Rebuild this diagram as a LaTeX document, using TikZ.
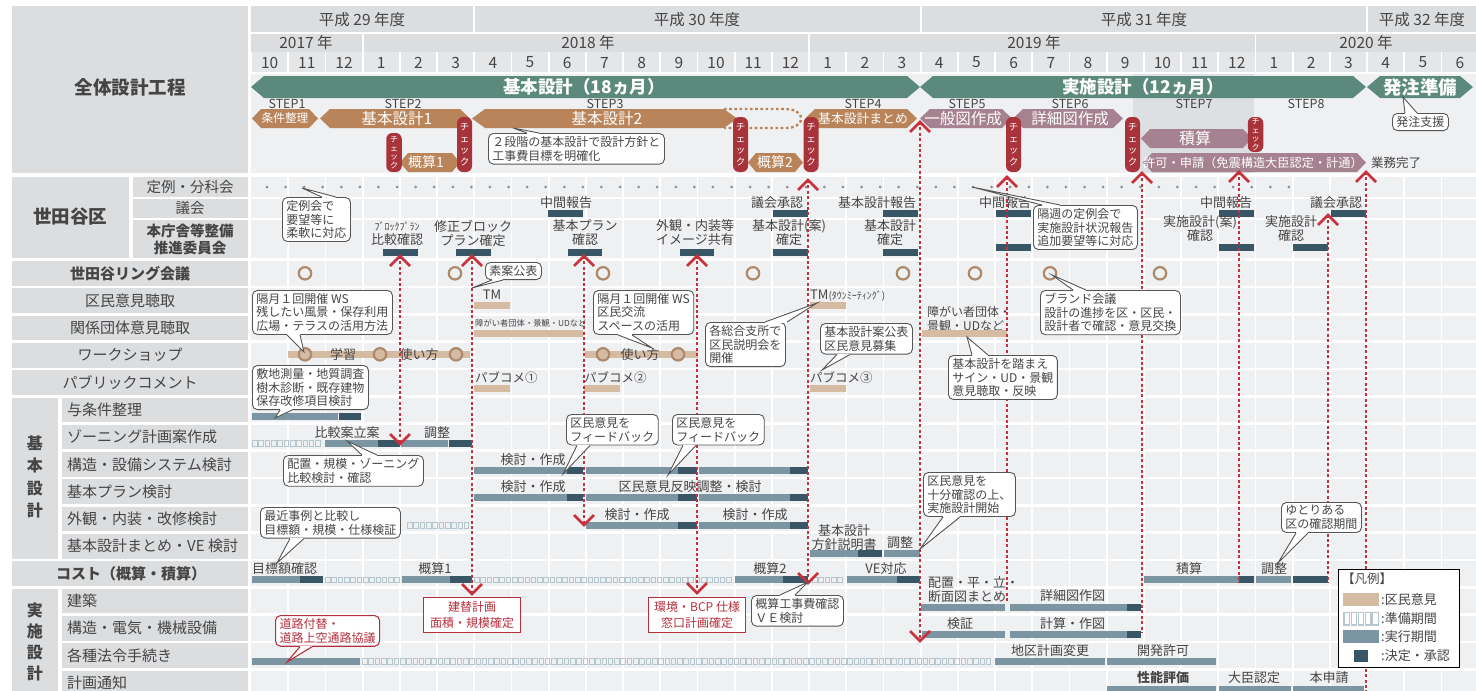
\documentclass[tikz,border=0pt]{standalone}
\usepackage{fontspec}
\setmainfont{Noto Sans CJK JP}
\usetikzlibrary{calc}
\definecolor{hdrgray}{HTML}{DCDDDF}
\definecolor{mongray}{HTML}{E5E6E8}
\definecolor{cellgray}{HTML}{EFF0F2}
\definecolor{txt}{HTML}{454545}
\definecolor{green1}{HTML}{5B8A7C}
\definecolor{brown1}{HTML}{B9845A}
\definecolor{mauve}{HTML}{A6818F}
\definecolor{pillred}{HTML}{A8333A}
\definecolor{dashred}{HTML}{C8303C}
\definecolor{steel}{HTML}{7B96A2}
\definecolor{deep}{HTML}{395666}
\definecolor{tanc}{HTML}{D6BBA3}
\definecolor{prepc}{HTML}{B5C6CF}
\definecolor{ringc}{HTML}{AC8A6B}
\definecolor{step7c}{HTML}{DDE0E3}
\definecolor{redtxt}{HTML}{B5303D}
\definecolor{dotc}{HTML}{8E8E8E}
\definecolor{cobord}{HTML}{555555}
\newcommand\fsHead{\fontsize{15.5}{16}\selectfont}
\newcommand\fsLab{\fontsize{15}{16}\selectfont}
\newcommand\fsChart{\fontsize{13}{14}\selectfont}
\newcommand\fsCall{\fontsize{12}{13.5}\selectfont}
\newcommand\hexa[6]{\fill[#1] (#2,{(#4+#5)/2}) -- ({#2+#6},#4) -- ({#3-#6},#4) -- (#3,{(#4+#5)/2}) -- ({#3-#6},#5) -- ({#2+#6},#5) -- cycle;}
\newcommand\barE[3]{\fill[steel] (#1,#3) rectangle (#2,{#3+7});}
\newcommand\barD[3]{\fill[deep] (#1,#3) rectangle (#2,{#3+7});}
\newcommand\barT[3]{\fill[tanc] (#1,#3) rectangle (#2,{#3+6.5});}
\newcommand\barP[3]{\pgfmathtruncatemacro\nsq{floor((#2-#1-4)/6.3)}\foreach \q in {0,...,\nsq}{\draw[prepc,line width=0.8pt] ({#1+6.3*\q+0.5},{#3+0.6}) rectangle ++(4.6,5.8);}}
\newcommand\chevU[2]{\draw[dashred,line width=2.6pt] ({#1-10},{#2+10}) -- (#1,#2) -- ({#1+10},{#2+10});}
\newcommand\chevD[2]{\draw[dashred,line width=2.6pt] ({#1-10},{#2-10}) -- (#1,#2) -- ({#1+10},{#2-10});}
\newcommand\rline[3]{\draw[dashred,line width=2.4pt,dash pattern=on 3pt off 2.4pt] (#1,#2) -- (#1,#3);}
\tikzset{
 callout/.style={draw=cobord, line width=0.9pt, fill=white, rounded corners=5pt, inner xsep=4pt, inner ysep=3pt, align=left, font=\fsCall, text=txt, anchor=north west},
 coline/.style={draw=cobord, line width=0.9pt},
 rcallout/.style={draw=redtxt, line width=1.1pt, fill=white, rounded corners=5pt, inner xsep=4pt, inner ysep=3pt, align=left, font=\fsCall, text=redtxt, anchor=north west},
 rcoline/.style={draw=redtxt, line width=1.1pt},
 redbox/.style={draw=redtxt, line width=1.2pt, fill=white, text=redtxt, align=center, font=\fontsize{12}{16}\selectfont, minimum width=97pt, minimum height=35pt, anchor=north west},
 pillbig/.style={fill=pillred, rounded corners=6pt, text=white, align=center, font=\fontsize{9.5}{11.5}\selectfont, minimum width=15pt, minimum height=55pt},
 pillsm/.style={fill=pillred, rounded corners=6pt, text=white, align=center, font=\fontsize{8}{8.6}\selectfont, minimum width=15.5pt},
 stxt/.style={text=white, font=\fontsize{15.5}{16}\selectfont},
 lab/.style={font=\fsLab},
 labb/.style={font=\fsLab\bfseries},
 sublab/.style={font=\fsLab, anchor=west},
 ct/.style={font=\fsChart},
}
\newcommand\callout[9]{%
 \node[callout] (#1) at (#2,#3) {#4};
 \coordinate (#1t) at (#5,#6);
 \coordinate (#1a) at (#7,0 |- #1.#9);
 \coordinate (#1b) at (#8,0 |- #1.#9);
 \fill[white] (#1a) -- (#1t) -- (#1b) -- cycle;
 \draw[white, line width=1.8pt] (#1a) -- (#1b);
 \draw[coline] (#1a) -- (#1t) -- (#1b);
}
\newcommand\calloutR[9]{%
 \node[rcallout] (#1) at (#2,#3) {#4};
 \coordinate (#1t) at (#5,#6);
 \coordinate (#1a) at (#7,0 |- #1.#9);
 \coordinate (#1b) at (#8,0 |- #1.#9);
 \fill[white] (#1a) -- (#1t) -- (#1b) -- cycle;
 \draw[white, line width=2pt] (#1a) -- (#1b);
 \draw[rcoline] (#1a) -- (#1t) -- (#1b);
}
\begin{document}
\begin{tikzpicture}[x=1pt,y=-1pt, every node/.style={text=txt, inner sep=0pt}]
\useasboundingbox (0,0) rectangle (1476,691);
\fill[white] (0,0) rectangle (1476,691);
% ---------- header ----------
\fill[hdrgray] (12,6) rectangle (248,173);
\fill[hdrgray] (251,6) rectangle (473.3,32);
\fill[hdrgray] (475.1,6) rectangle (919.7,32);
\fill[hdrgray] (921.5,6) rectangle (1366.1,32);
\fill[hdrgray] (1367.9,6) rectangle (1476,32);
\fill[hdrgray] (251,34) rectangle (361.7,52);
\fill[hdrgray] (363.5,34) rectangle (808.1,52);
\fill[hdrgray] (809.9,34) rectangle (1254.5,52);
\fill[hdrgray] (1256.3,34) rectangle (1476,52);
\foreach \i in {0,...,32} \fill[mongray] ({251+37.2*\i+0.9},52) rectangle ({251+37.2*\i+36.3},72);
\node[font=\fsHead] (fy29) at (362,20) {平成 29 年度};
\node[font=\fsHead] (fy30) at (697,20) {平成 30 年度};
\node[font=\fsHead] (fy31) at (1144,20) {平成 31 年度};
\node[font=\fsHead] (fy32) at (1422,20) {平成 32 年度};
\node[font=\fsHead] (y17) at (306,43) {2017 年};
\node[font=\fsHead] (y18) at (588,43) {2018 年};
\node[font=\fsHead] (y19) at (1034,43) {2019 年};
\node[font=\fsHead] (y20) at (1366,43) {2020 年};
\foreach \m [count=\i from 0] in {10,11,12,1,2,3,4,5,6,7,8,9,10,11,12,1,2,3,4,5,6,7,8,9,10,11,12,1,2,3,4,5,6}
  \node[font=\fsHead] (mo\i) at ({251+37.2*\i+18.6},62.5) {\m};
\node[font=\fontsize{18.5}{20}\selectfont\bfseries] (lall) at (130,87) {全体設計工程};
% ---------- overall design area ----------
\fill[cellgray] (251,74) rectangle (1476,173);
\fill[step7c] (1133,74) rectangle (1254,173);
\hexa{green1}{251}{920}{76}{98}{13}
\hexa{green1}{920}{1366}{76}{98}{13}
\hexa{green1}{1367}{1473}{76}{98}{13}
\node[text=white, font=\fontsize{17.5}{18}\selectfont\bfseries] (gk) at (584,87) {基本設計（18ヵ月）};
\node[text=white, font=\fontsize{17.5}{18}\selectfont\bfseries] (gj) at (1143,87) {実施設計（12ヵ月）};
\node[text=white, font=\fontsize{18.5}{19}\selectfont\bfseries] (gh) at (1420,87) {発注準備};
\foreach \sx/\sn in {287/1,403/2,605/3,863/4,967/5,1070/6,1194/7,1306/8}
  \node[font=\fontsize{12.5}{13}\selectfont] (st\sn) at (\sx,104) {STEP\sn};
\draw[brown1, line width=2.3pt, dash pattern=on 2.6pt off 2.6pt] (724,109) -- (786,109) to[out=0,in=90] (801,118.5) to[out=-90,in=0] (786,128) -- (724,128);
\hexa{brown1}{252}{318}{109}{128}{9}
\hexa{brown1}{320}{470}{109}{128}{10}
\hexa{brown1}{472}{737}{109}{128}{13}
\hexa{brown1}{805}{917}{109}{128}{10}
\hexa{mauve}{920}{1012}{109}{128}{10}
\hexa{mauve}{1013}{1123}{109}{128}{10}
\hexa{mauve}{1141}{1252}{129}{148}{9}
\hexa{mauve}{1143}{1366}{153}{172}{9}
\hexa{brown1}{400}{460}{153}{172}{8}
\hexa{brown1}{748}{803}{153}{172}{8}
\node[text=white, font=\fontsize{11.7}{12}\selectfont] (s1) at (285,118.5) {条件整理};
\node[stxt] (s2) at (397,118.5) {基本設計1};
\node[stxt] (s3) at (607,118.5) {基本設計2};
\node[text=white, font=\fontsize{12.8}{13}\selectfont] (s4) at (863,118.5) {基本設計まとめ};
\node[stxt] (s5) at (963,118.5) {一般図作成};
\node[stxt] (s6) at (1070,118.5) {詳細図作成};
\node[text=white, font=\fontsize{16}{16}\selectfont] (s7) at (1195,138.5) {積算};
\node[text=white, font=\fontsize{12.2}{13}\selectfont] (s8) at (1253,162.5) {許可・申請（免震構造大臣認定・計通）};
\node[text=white, font=\fontsize{14}{14}\selectfont] (s9) at (426,162.5) {概算1};
\node[text=white, font=\fontsize{14}{14}\selectfont] (s10) at (775,162.5) {概算2};
\node[font=\fontsize{12.5}{13}\selectfont] (done) at (1396,163) {業務完了};
\node[pillsm, minimum height=39pt] (p1) at (394,152.5) {チ\\ェ\\ッ\\ク};
\node[pillbig] (p2) at (464.5,144.5) {チ\\ェ\\ッ\\ク};
\node[pillbig] (p3) at (740.5,144.5) {チ\\ェ\\ッ\\ク};
\node[pillbig] (p4) at (811,144.5) {チ\\ェ\\ッ\\ク};
\node[pillbig] (p5) at (1013.5,144.5) {チ\\ェ\\ッ\\ク};
\node[pillbig] (p6) at (1132.5,144.5) {チ\\ェ\\ッ\\ク};
\node[pillsm, minimum height=35pt] (p7) at (1255.5,134.5) {チ\\ェ\\ッ\\ク};
% ---------- chart bands ----------
\foreach \yy/\hh in {177/20,199/19,220/38} \fill[cellgray] (251,\yy) rectangle (1476,{\yy+\hh});
\foreach \k in {0,...,15} \fill[cellgray] (251,{261+27.3*\k}) rectangle (1476,{261+27.3*\k+24.6});
\foreach \i in {1,...,32} \draw[white, line width=1.8pt] ({251+37.2*\i},175) -- ({251+37.2*\i},691);
% ---------- left labels ----------
\fill[hdrgray] (12,177) rectangle (129,258);
\fill[hdrgray] (133,177) rectangle (248,197);
\fill[hdrgray] (133,199) rectangle (248,218);
\fill[hdrgray] (133,220) rectangle (248,258);
\foreach \k in {0,1,2,3,4,11} \fill[hdrgray] (12,{261+27.3*\k}) rectangle (248,{261+27.3*\k+24.6});
\foreach \k in {5,6,7,8,9,10,12,13,14,15} \fill[hdrgray] (62,{261+27.3*\k}) rectangle (248,{261+27.3*\k+24.6});
\fill[hdrgray] (12,397.5) rectangle (58,558.6);
\fill[hdrgray] (12,588.6) rectangle (58,695);
\node[font=\fontsize{18.5}{20}\selectfont\bfseries] (lsg) at (70,217) {世田谷区};
\node[font=\fontsize{14.5}{15}\selectfont] (lteirei) at (190,187) {定例・分科会};
\node[font=\fontsize{14.5}{15}\selectfont] (lgikai) at (190,208.5) {議会};
\node[font=\fontsize{14.5}{17}\selectfont\bfseries, align=center] (lhon) at (190,239) {本庁舎等整備\\推進委員会};
\node[labb] (lring) at (130,273.3) {世田谷リング会議};
\node[lab] (lkumin) at (130,300.6) {区民意見聴取};
\node[lab] (lkankei) at (130,327.9) {関係団体意見聴取};
\node[lab] (lws) at (130,355.2) {ワークショップ};
\node[lab] (lpub) at (130,382.5) {パブリックコメント};
\node[sublab] (l5) at (67,409.8) {与条件整理};
\node[sublab] (l6) at (67,437.1) {ゾーニング計画案作成};
\node[sublab] (l7) at (67,464.4) {構造・設備システム検討};
\node[sublab] (l8) at (67,491.7) {基本プラン検討};
\node[sublab] (l9) at (67,519) {外観・内装・改修検討};
\node[sublab] (l10) at (67,546.3) {基本設計まとめ・VE 検討};
\node[labb] (l11) at (131,573.6) {コスト（概算・積算）};
\node[sublab] (l12) at (67,600.9) {建築};
\node[sublab] (l13) at (67,628.2) {構造・電気・機械設備};
\node[sublab] (l14) at (67,655.5) {各種法令手続き};
\node[sublab] (l15) at (67,682.8) {計画通知};
\node[font=\fontsize{16}{22.5}\selectfont\bfseries, align=center] (lkihon) at (35,477) {基\\本\\設\\計};
\node[font=\fontsize{16}{21}\selectfont\bfseries, align=center] (ljissi) at (35,642) {実\\施\\設\\計};
% ---------- Setagaya rows ----------
\foreach \d in {0,...,55} \fill[dotc] ({267+18.58*\d},187) circle (1.5);
\node[ct] (g1) at (566,203) {中間報告}; \barD{548}{583}{210}
\node[ct] (g2) at (777,203) {議会承認}; \barD{773}{808}{210}
\node[ct] (g3) at (877,203) {基本設計報告}; \barD{883}{918}{210}
\node[ct] (g4) at (1005,203) {中間報告}; \barD{996}{1031}{210}
\node[ct] (g5) at (1226,203) {中間報告}; \barD{1219}{1254}{210}
\node[ct] (g6) at (1336,203) {議会承認}; \barD{1331}{1366}{210}
\node[font=\fontsize{10}{10}\selectfont] (h1a) at (397,226.5) {ﾌﾞﾛｯｸﾌﾟﾗﾝ};
\node[ct] (h1b) at (397,240) {比較確認}; \barD{383}{418}{249}
\node[ct, align=center] (h2) at (473,233) {修正ブロック\\プラン確定}; \barD{456}{491}{249}
\node[ct, align=center] (h3) at (585,233) {基本プラン\\確認}; \barD{568}{602}{249}
\node[ct, align=center] (h4) at (695,233) {外観・内装等\\イメージ共有}; \barD{680}{714}{249}
\node[ct, align=center] (h5) at (789,233) {基本設計(案)\\確定}; \barD{773}{808}{249}
\node[ct, align=center] (h6) at (890,233) {基本設計\\確定}; \barD{883}{918}{249}
\barD{996}{1031}{244}
\node[ct, align=center] (h7) at (1200,229) {実施設計(案)\\確認}; \barD{1219}{1254}{244}
\node[ct, align=center] (h8) at (1291,229) {実施設計\\確認}; \barD{1293}{1328}{244}
% ring
\foreach \cx in {305,455,603,753,903,975,1050,1160} \draw[ringc, line width=2.2pt] (\cx,273.3) circle (6.2);
% kumin
\node[ct] (tm1) at (492,295) {TM}; \barT{474}{510}{302}
\node[anchor=west] (tm2) at (810,296) {\fsChart TM\fontsize{10}{10}\selectfont(ﾀｳﾝﾐｰﾃｨﾝｸﾞ)}; \barT{810}{846}{302}
% kankei
\node[anchor=west, font=\fontsize{8.3}{9}\selectfont] (kk1) at (475,323) {障がい者団体・景観・UDなど}; \barT{474}{583}{330}
\node[anchor=west, align=left, font=\fontsize{12}{14}\selectfont] (kk2) at (927,318.5) {障がい者団体・\\景観・UDなど}; \barT{922}{1007}{330}
% WS
\barT{288}{470}{351} \barT{585}{698}{351}
\foreach \cx in {305,380,456,603,678} \draw[ringc, fill=tanc, line width=2.2pt] (\cx,354.3) circle (6.2);
\node[ct] (ws1) at (343,355) {学習};
\node[ct] (ws2) at (419,355) {使い方};
\node[ct] (ws3) at (640,355) {使い方};
% pubcom
\node[anchor=west, font=\fontsize{12.5}{13}\selectfont] (pc1) at (475,377.5) {パブコメ①}; \barT{474}{510}{385}
\node[anchor=west, font=\fontsize{12.5}{13}\selectfont] (pc2) at (584,377.5) {パブコメ②}; \barT{584}{620}{385}
\node[anchor=west, font=\fontsize{12.5}{13}\selectfont] (pc3) at (810,377.5) {パブコメ③}; \barT{810}{846}{385}
% ---------- basic design rows ----------
\barE{252}{338}{412.5} \barD{339}{361}{412.5}
\barP{252}{325}{439.8} \barE{325}{378}{439.8} \barD{378}{400}{439.8} \barE{401}{448}{439.8} \barD{449}{472}{439.8}
\node[ct] (z1) at (347,432.3) {比較案立案}; \node[ct] (z2) at (437,432.3) {調整};
\barE{474}{567}{467.1} \barD{567}{583}{467.1} \barE{586}{678}{467.1} \barD{678}{697}{467.1} \barE{699}{790}{467.1} \barD{790}{808}{467.1}
\node[ct] (k7) at (533,459.6) {検討・作成};
\barE{474}{567}{494.4} \barD{567}{583}{494.4} \barE{586}{678}{494.4} \barD{678}{697}{494.4} \barE{699}{790}{494.4} \barD{790}{808}{494.4}
\node[ct] (k8a) at (533,486.9) {検討・作成}; \node[ct] (k8b) at (690,486.9) {区民意見反映調整・検討};
\barP{407}{470}{521.7} \barE{586}{678}{521.7} \barD{678}{697}{521.7} \barE{699}{790}{521.7} \barD{790}{808}{521.7}
\node[ct] (k9a) at (637,514.2) {検討・作成}; \node[ct] (k9b) at (755,514.2) {検討・作成};
\barE{810}{858}{550} \barD{858}{882}{550} \barE{884}{920}{550}
\node[ct, align=center] (k10a) at (844,538) {基本設計\\方針説明書}; \node[ct] (k10b) at (900,543) {調整};
% cost
\barE{252}{300}{576.3} \barD{300}{323}{576.3} \barP{325}{400}{576.3}
\barE{402}{450}{576.3} \barD{450}{472}{576.3} \barP{474}{733}{576.3}
\barE{735}{783}{576.3} \barD{783}{808}{576.3} \barP{812}{846}{576.3}
\barE{847}{897}{576.3} \barD{897}{920}{576.3}
\barE{1144}{1239}{576.3} \barD{1239}{1254}{576.3} \barE{1256}{1291}{576.3} \barD{1293}{1328}{576.3}
\node[ct, anchor=west] (c11a) at (252,568.8) {目標額確認};
\node[ct] (c11b) at (435,568.8) {概算1};
\node[ct] (c11c) at (770,568.8) {概算2};
\node[ct] (c11d) at (886,568.8) {VE対応};
\node[ct] (c11e) at (1189,568.8) {積算};
\node[ct] (c11f) at (1274,568.8) {調整};
% implementation rows
\barE{921}{1005}{603.6} \barE{1010}{1127}{603.6} \barD{1127}{1141}{603.6}
\node[ct, anchor=west, align=left] (j12a) at (928,589.5) {配置・平・立・\\断面図まとめ};
\node[ct, anchor=west] (j12b) at (1040,596) {詳細図作図};
\barE{922}{1005}{630.9} \barE{1010}{1127}{630.9} \barD{1127}{1141}{630.9}
\node[ct] (j13a) at (960,623.4) {検証}; \node[ct, anchor=west] (j13b) at (1040,623.4) {計算・作図};
\barE{252}{360}{658.2} \barP{362}{992}{658.2} \barE{995}{1105}{658.2} \barE{1107}{1216}{658.2}
\node[ct] (j14a) at (1050,650.7) {地区計画変更}; \node[ct] (j14b) at (1163,650.7) {開発許可};
\barE{1107}{1216}{685.5} \barE{1219}{1291}{685.5} \barE{1293}{1364}{685.5}
\node[ct, font=\fsChart\bfseries] (j15a) at (1163,678) {性能評価};
\node[ct] (j15b) at (1254,678) {大臣認定};
\node[ct] (j15c) at (1329,678) {本申請};
% ---------- red dotted lines ----------
\rline{400}{256}{444} \chevU{400}{256} \chevD{400}{444}
\rline{472}{256}{594} \chevU{472}{256} \chevD{472}{594}
\rline{584}{256}{525} \chevU{584}{256} \chevD{584}{525}
\rline{697}{256}{593} \chevU{697}{256} \chevD{697}{593}
\rline{808}{180}{583} \chevU{808}{180} \chevD{808}{583}
\rline{920}{122}{641} \chevU{920}{122} \chevD{920}{641}
\rline{1007}{177}{602} \chevU{1007}{177}
\rline{1142}{173}{633} \chevU{1142}{173}
\rline{1239}{172}{583} \chevU{1239}{172}
\rline{1328}{215}{583} \chevU{1328}{215}
\rline{1366}{172}{691} \chevU{1366}{172}
% ---------- callouts ----------
\callout{c1}{282}{197}{定例会で\\要望等に\\柔軟に対応}{302}{188}{322}{336}{north}
\callout{c2}{488}{133}{２段階の基本設計で設計方針と\\工事費目標を明確化}{513}{128}{527}{539}{north}
\callout{c3}{1033}{205}{隔週の定例会で\\実施設計状況報告\\追加要望等に対応}{972}{187}{1042}{1060}{north}
\callout{c4}{485}{262}{素案公表}{472}{288}{492}{503}{south}
\callout{c5}{252}{290}{隔月１回開催 WS\\残したい風景・保存利用\\広場・テラスの活用方法}{304}{352}{287}{300}{south}
\callout{c6}{593}{290}{隔月１回開催 WS\\区民交流\\スペースの活用}{652}{348}{618}{632}{south}
\callout{c7}{705}{322}{各総合支所で\\区民説明会を\\開催}{817}{303}{765}{787}{north}
\callout{c8}{820}{323}{基本設計案公表\\区民意見募集}{822}{370}{837}{850}{south}
\callout{c9}{948}{355}{基本設計を踏まえ\\サイン・UD・景観\\意見聴取・反映}{967}{337}{972}{988}{north}
\callout{c10}{1040}{290}{ブランド会議\\設計の進捗を区・区民・\\設計者で確認・意見交換}{1052}{275}{1073}{1086}{north}
\callout{c11}{252}{365}{敷地測量・地質調査\\樹木診断・既存建物\\保存改修項目検討}{275}{418}{280}{292}{south}
\callout{c12}{566}{414}{区民意見を\\フィードバック}{563}{474}{577}{590}{south}
\callout{c13}{672}{414}{区民意見を\\フィードバック}{668}{475}{683}{696}{south}
\callout{c14}{283}{455}{配置・規模・ゾーニング\\比較検討・確認}{347}{441}{362}{377}{north}
\callout{c15}{260}{507}{最近事例と比較し\\目標額・規模・仕様検証}{277}{563}{290}{304}{south}
\callout{c16}{923}{472}{区民意見を\\十分確認の上、\\実施設計開始}{920}{549}{943}{960}{south}
\callout{c17}{1281}{502}{ゆとりある\\区の確認期間}{1278}{563}{1296}{1308}{south}
\callout{c18}{751}{595}{概算工事費確認\\ＶＥ検討}{808}{582}{780}{795}{north}
\callout{c19}{1392}{113}{発注支援}{1403}{97}{1405}{1417}{north}
\calloutR{c20}{275}{615}{道路付替・\\道路上空通路協議}{287}{662}{300}{312}{south}
\node[redbox] (r21) at (423,597) {建替計画\\面積・規模確定};
\node[redbox] (r22) at (648,597) {環境・BCP 仕様\\窓口計画確定};
% ---------- legend ----------
\node[draw=black, line width=1pt, fill=white, minimum width=121pt, minimum height=98pt, anchor=north west] (leg) at (1338,569) {};
\node[anchor=west, font=\fontsize{12.5}{13}\selectfont] (legt) at (1342,579) {【凡例】};
\fill[tanc] (1343,593) rectangle (1379,606);
\node[anchor=west, font=\fontsize{13}{13}\selectfont] (leg1) at (1381,600) {:区民意見};
\foreach \q in {0,...,4} \draw[prepc, line width=1.1pt] ({1344+7.2*\q},612.5) rectangle ++(5.4,12.5);
\node[anchor=west, font=\fontsize{13}{13}\selectfont] (leg2) at (1381,619) {:準備期間};
\fill[steel] (1343,630) rectangle (1379,643);
\node[anchor=west, font=\fontsize{13}{13}\selectfont] (leg3) at (1381,637) {:実行期間};
\fill[deep] (1354,650) rectangle (1368,662);
\node[anchor=west, font=\fontsize{13}{13}\selectfont] (leg4) at (1381,656) {:決定・承認};
\end{tikzpicture}
\end{document}
